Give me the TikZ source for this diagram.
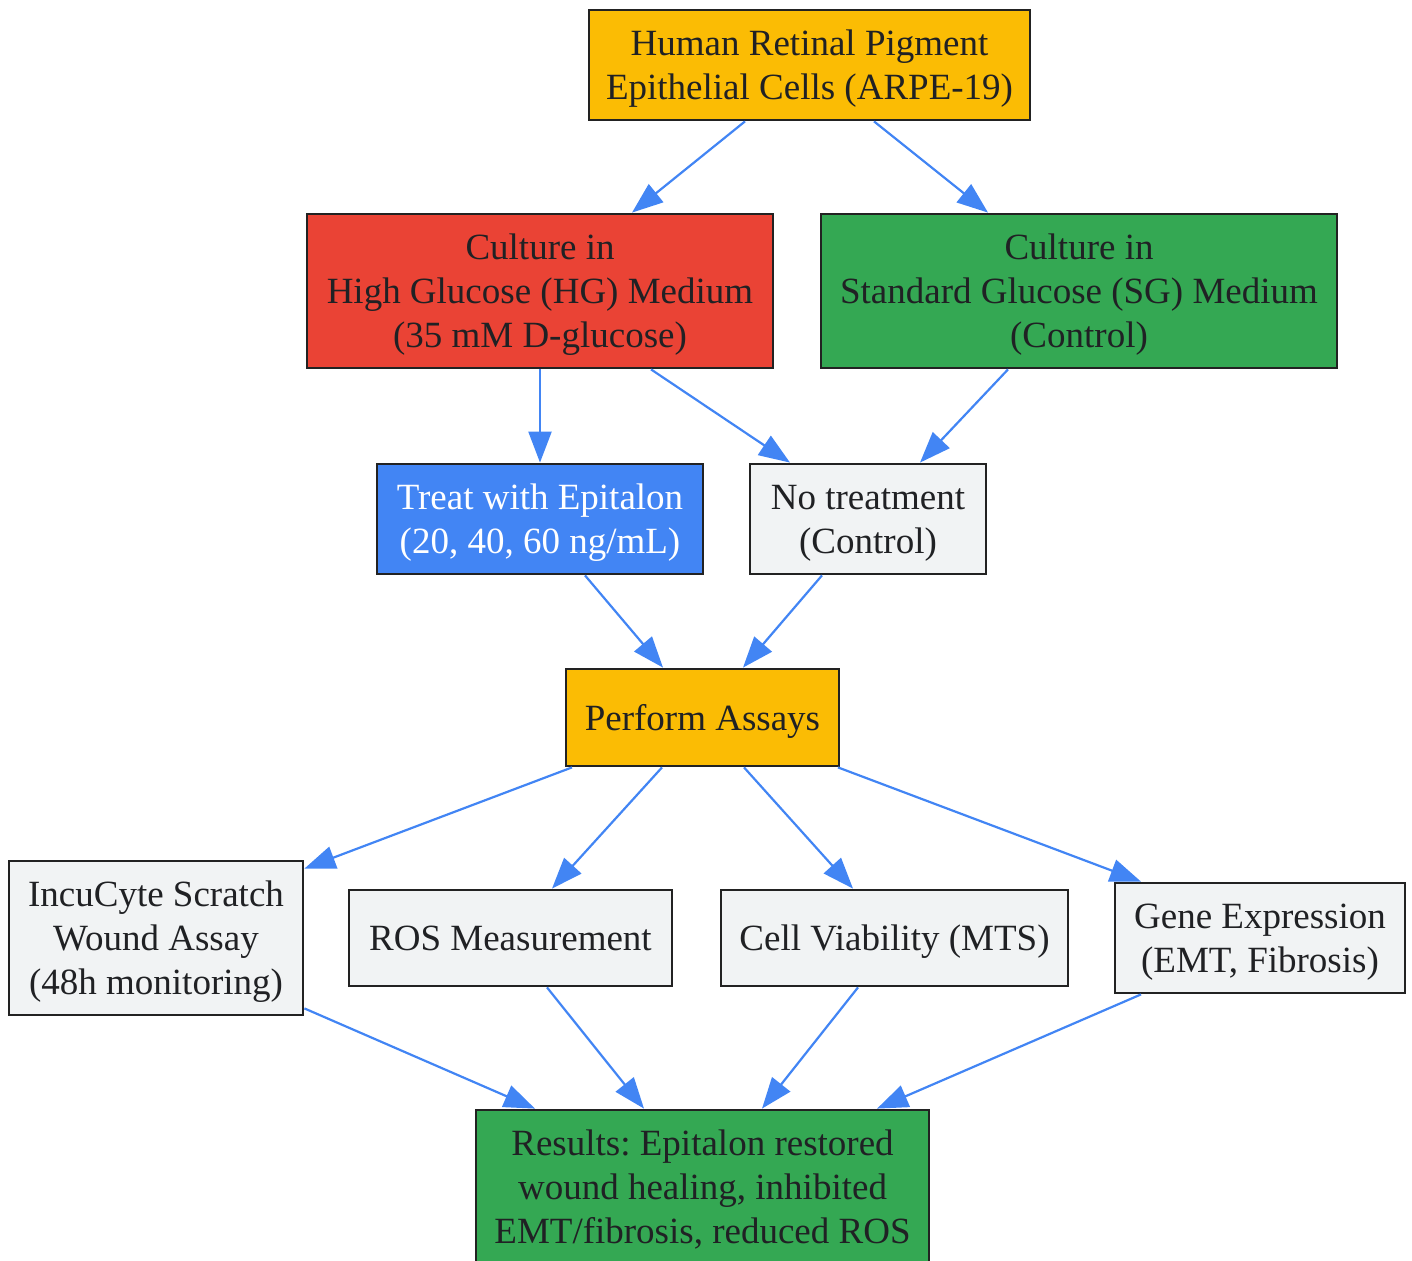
\documentclass[tikz,border=0pt]{standalone}
\usepackage{fontspec}
\setmainfont{Liberation Serif}
\usetikzlibrary{arrows.meta,calc}

\definecolor{gyellow}{HTML}{FBBC04}
\definecolor{gred}{HTML}{EA4335}
\definecolor{ggreen}{HTML}{34A853}
\definecolor{gblue}{HTML}{4285F4}
\definecolor{ggrey}{HTML}{F1F3F4}
\definecolor{ink}{HTML}{202124}
\definecolor{boxline}{HTML}{222222}

\tikzset{
  box/.style={draw=boxline,line width=1.4pt,align=flush center,inner sep=0pt,text=ink,
    font=\fontsize{18.5}{22}\selectfont\frenchspacing,
    execute at begin node={\rule{0pt}{16.5pt}},
    execute at end node={\rule[-4pt]{0pt}{4pt}}},
  flow/.style={->,draw=gblue,line width=1.1pt}
}

\begin{document}
\begin{tikzpicture}[x=0.5pt,y=-0.5pt,>={Triangle[length=15.5pt,width=11.5pt]}]
  \useasboundingbox (0,0) rectangle (1412,1261);
  % --- source cells ---
  \node[box,fill=gyellow,text width=220.5pt,minimum height=55pt] (cells) at (809.5,65)
    {Human Retinal Pigment\\Epithelial Cells (ARPE-19)};
  % --- culture media ---
  \node[box,fill=gred,text width=233pt,minimum height=77pt] (hg) at (540,291)
    {Culture in\\High Glucose (HG) Medium\\(35 mM D-glucose)};
  \node[box,fill=ggreen,text width=258pt,minimum height=77pt] (sg) at (1079,291)
    {Culture in\\Standard Glucose (SG) Medium\\(Control)};
  % --- treatment ---
  \node[box,fill=gblue,text=white,text width=163pt,minimum height=55pt] (treat) at (540,519)
    {Treat with Epitalon\\(20, 40, 60 ng/mL)};
  \node[box,fill=ggrey,text width=118pt,minimum height=55pt] (notreat) at (868,519)
    {No treatment\\(Control)};
  \node[box,fill=gyellow,text width=136.5pt,minimum height=48.5pt] (assays) at (702.5,717.5)
    {Perform Assays};
  % --- assays ---
  \node[box,fill=ggrey,text width=147pt,minimum height=77pt] (wound) at (156,938)
    {IncuCyte Scratch\\Wound Assay\\(48h monitoring)};
  \node[box,fill=ggrey,text width=161.5pt,minimum height=48pt] (ros) at (510.5,938)
    {ROS Measurement};
  \node[box,fill=ggrey,text width=173.5pt,minimum height=48pt] (mts) at (894.5,938)
    {Cell Viability (MTS)};
  \node[box,fill=ggrey,text width=145pt,minimum height=55pt] (gene) at (1260,938)
    {Gene Expression\\(EMT, Fibrosis)};
  % --- outcome ---
  \node[box,fill=ggreen,text width=226.5pt,minimum height=77pt] (results) at (702.5,1187)
    {Results: Epitalon restored\\wound healing, inhibited\\EMT/fibrosis, reduced ROS};
  % --- connectors ---
  \draw[flow] ($(cells.south)+(-64.5,0)$) -- ($(hg.north)+(92,0)$);
  \draw[flow] ($(cells.south)+(64.5,0)$) -- ($(sg.north)+(-91,0)$);
  \draw[flow] (hg.south) -- (treat.north);
  \draw[flow] ($(hg.south)+(111,0)$) -- ($(notreat.north)+(-78,0)$);
  \draw[flow] ($(sg.south)+(-71,0)$) -- ($(notreat.north)+(52,0)$);
  \draw[flow] ($(treat.south)+(45,0)$) -- ($(assays.north)+(-39.5,0)$);
  \draw[flow] ($(notreat.south)+(-46,0)$) -- ($(assays.north)+(40.5,0)$);
  \draw[flow] ($(assays.south)+(-130.5,0)$) -- ($(wound.north east)+(0,9)$);
  \draw[flow] ($(assays.south)+(-40.5,0)$) -- ($(ros.north)+(41.5,0)$);
  \draw[flow] ($(assays.south)+(41.5,0)$) -- ($(mts.north)+(-41.5,0)$);
  \draw[flow] ($(assays.south)+(135.5,0)$) -- ($(gene.north)+(-119,0)$);
  \draw[flow] ($(wound.south east)+(0,-8)$) -- ($(results.north)+(-167.5,0)$);
  \draw[flow] ($(ros.south)+(36.5,0)$) -- ($(results.north)+(-58.5,0)$);
  \draw[flow] ($(mts.south)+(-36.5,0)$) -- ($(results.north)+(59.5,0)$);
  \draw[flow] ($(gene.south)+(-119,0)$) -- ($(results.north)+(174.5,0)$);
\end{tikzpicture}
\end{document}
